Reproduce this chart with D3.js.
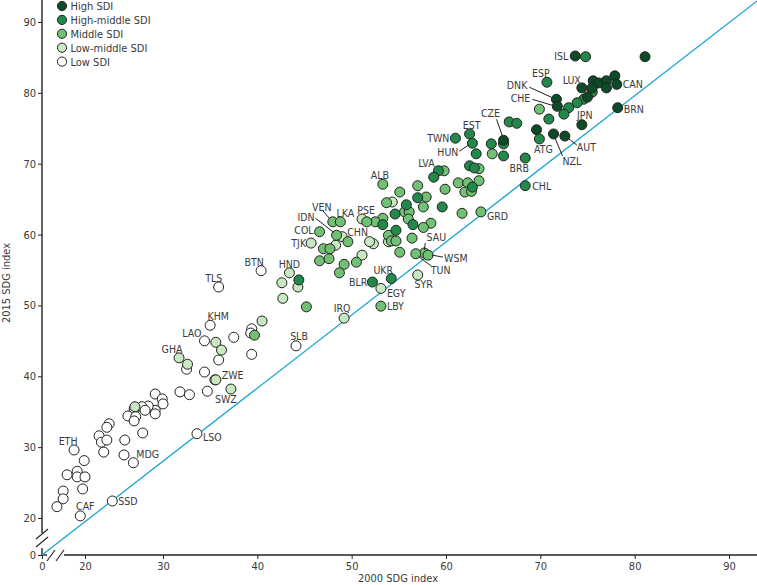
<!DOCTYPE html>
<html><head><meta charset="utf-8">
<script src="https://cdn.jsdelivr.net/npm/d3@7"></script>
<style>
html,body{margin:0;padding:0;background:#fff;}
svg{display:block;font-family:"DejaVu Sans Condensed","Liberation Sans",sans-serif;}
</style></head>
<body>
<svg id="chart" width="757" height="585"></svg>
<script>
// ---- data: [2000 SDG index, 2015 SDG index, label] ----
const sdiLevels = ["High SDI","High-middle SDI","Middle SDI","Low-middle SDI","Low SDI"];
const xTicks = [0,20,30,40,50,60,70,80,90];
const yTicks = [0,20,30,40,50,60,70,80,90];

const highSDI = [
[73.7,85.2,"ISL"],[81.1,85.1,""],[75.6,81.7,""],[76.2,81.4,""],[77.0,81.7,""],
[77.0,80.7,""],[77.9,82.4,""],[78.1,81.2,"CAN"],[74.4,80.7,"LUX"],[75.5,80.7,""],
[75.0,79.4,""],[71.7,79.1,"DNK"],[71.8,78.1,"CHE"],[74.4,75.5,"JPN"],[78.2,77.9,"BRN"],
[69.6,74.8,""],[71.4,74.2,"NZL"],[72.6,73.9,"AUT"],[66.1,73.3,"CZE"]
];
const highMiddleSDI = [
[74.8,85.1,""],[70.7,81.5,"ESP"],[75.5,80.1,""],[74.6,79.1,""],[73.9,78.6,""],
[73.0,77.9,""],[72.5,77.0,""],[70.9,76.3,""],[69.9,73.5,"ATG"],[68.4,70.8,"BRB"],
[68.4,66.9,"CHL"],[66.7,75.9,""],[67.5,75.7,""],[66.1,72.8,""],[62.5,74.2,"EST"],
[61.0,73.6,"TWN"],[62.8,72.9,"HUN"],[64.8,72.8,""],[66.1,71.1,""],[63.2,71.4,""],
[59.2,69.0,"LVA"],[58.7,68.1,""],[62.5,69.7,""],[63.0,69.4,""],[62.8,66.7,""],
[57.0,65.2,""],[55.8,64.2,""],[56.5,61.4,""],[59.6,63.9,""],[54.6,62.9,""],
[53.3,61.4,""],[54.7,60.6,""],[52.2,53.3,"BLR"],[54.2,53.8,"UKR"],[44.4,53.6,""]
];
const middleSDI = [
[69.9,77.7,""],[64.9,71.4,""],[59.8,69.0,""],[63.5,69.3,""],[61.3,67.3,""],
[62.3,67.3,""],[63.5,67.6,""],[62.0,66.0,""],[62.7,66.1,""],[59.9,66.4,""],
[57.0,66.9,""],[55.1,66.0,""],[57.9,65.3,""],[57.6,63.9,""],[55.6,63.2,""],
[56.1,63.2,""],[56.0,62.2,""],[58.4,61.6,""],[57.6,61.0,""],[56.4,59.5,""],
[55.1,57.5,""],[57.7,57.4,"SAU"],[56.8,57.3,"TUN"],[58.1,57.1,"WSM"],[61.7,63.0,""],
[63.7,63.2,"GRD"],[53.3,67.1,"ALB"],[53.7,64.5,""],[53.3,62.3,""],[52.5,61.8,""],
[51.6,61.8,""],[53.9,59.9,""],[54.2,59.1,""],[54.7,59.1,""],[50.5,56.1,""],
[46.6,56.3,""],[47.6,56.6,""],[49.2,55.8,""],[48.7,54.6,""],[47.0,58.0,""],
[47.7,58.0,""],[49.6,59.0,""],[48.4,59.9,"IDN"],[46.6,60.4,"COL"],[48.0,61.8,"VEN"],
[48.8,61.8,"LKA"],[45.2,49.8,""],[39.7,45.8,""],[53.1,49.9,"LBY"]
];
const lowMiddleSDI = [
[54.3,64.6,""],[51.1,62.2,"PSE"],[53.9,59.0,""],[52.3,58.7,""],[51.9,59.0,""],
[51.1,57.1,""],[49.0,59.7,"CHN"],[48.3,58.5,""],[45.7,58.8,"TJK"],[43.4,54.6,"HND"],
[44.3,52.6,""],[42.6,53.2,""],[42.7,51.0,""],[40.5,47.8,""],[49.2,48.2,"IRQ"],
[53.1,52.4,"EGY"],[57.0,54.3,"SYR"],[31.7,42.6,"GHA"],[32.6,41.7,""],[35.6,44.8,""],
[36.2,43.7,""],[35.6,39.5,"ZWE"],[37.2,38.2,"SWZ"],[26.4,35.7,""]
];
const lowSDI = [
[35.0,47.2,"KHM"],[34.4,45.0,"LAO"],[32.5,41.0,""],[37.5,45.5,""],[35.9,42.3,""],
[34.4,40.6,""],[35.5,39.5,""],[34.7,37.9,""],[31.8,37.8,""],[32.8,37.4,""],
[39.4,46.7,""],[39.3,46.1,""],[39.4,43.1,""],[33.6,31.9,"LSO"],[35.9,52.6,"TLS"],
[40.4,54.9,"BTN"],[44.1,44.3,"SLB"],[29.0,37.5,""],[29.9,36.8,""],[30.0,36.1,""],
[29.0,35.2,""],[29.0,34.7,""],[28.1,35.8,""],[27.3,35.7,""],[26.3,35.4,""],
[27.7,35.2,""],[25.5,34.4,""],[26.5,34.3,""],[26.3,33.7,""],[27.4,32.0,""],
[23.1,33.3,""],[22.8,32.8,""],[21.8,31.6,""],[22.1,30.7,""],[22.8,31.0,""],
[22.4,29.3,""],[25.1,31.0,""],[25.0,28.9,""],[26.2,27.8,"MDG"],[18.6,29.6,"ETH"],
[19.9,28.1,""],[17.7,26.1,""],[19.0,26.6,""],[19.0,25.8,""],[20.0,25.8,""],
[19.7,24.1,""],[17.2,23.8,""],[17.2,22.7,""],[16.4,21.6,""],[19.4,20.3,"CAF"],
[23.5,22.4,"SSD"]
];
const equalityLine = [[0,0],[93.1,93.1]];

// ---- presentation ----
const sdiColors = ["#0d4a27","#23894a","#70c174","#c7e8c0","#ffffff"];
const groups = [highSDI, highMiddleSDI, middleSDI, lowMiddleSDI, lowSDI];

// label placement (offsets from the point, px); line = leader [x1,y1,x2,y2]
const labelLayout = {
 ISL:["end",-7,0], ESP:["middle",-6,-9], LUX:["end",-1,-8], CAN:["start",6,0],
 DNK:["end",-29,-14,[-5,-2,-27,-12]], CHE:["end",-27,-8,[-5,-1,-25,-7]],
 JPN:["middle",3,-10], BRN:["start",6,1], ATG:["middle",4,10],
 NZL:["start",9,27,[1,3,9,22]], AUT:["start",12,11,[3,2,12,9]],
 BRB:["middle",-6,10], CHL:["start",7,0], CZE:["middle",-13,-27,[-1,-4,-7,-21]],
 EST:["middle",2,-9], TWN:["end",-6,0], HUN:["end",-14,9,[-4,2,-13,8]],
 LVA:["middle",-12,-8], GRD:["start",6,4], SAU:["middle",12,-16,[0,-3,1,-10]],
 WSM:["start",16,3,[4,0,15,2]], TUN:["start",15,16,[3,3,15,12]],
 SYR:["middle",6,9], UKR:["middle",-8,-9], BLR:["end",-5,0], EGY:["start",6,5],
 LBY:["start",6,0], IRQ:["middle",-2,-10], SLB:["middle",3,-10], HND:["middle",0,-9],
 BTN:["middle",-7,-9], TLS:["middle",-5,-9], KHM:["middle",8,-9], LAO:["end",-3,-8],
 GHA:["middle",-7,-9], ZWE:["start",6,-5], SWZ:["middle",-5,10], LSO:["start",6,3],
 MDG:["start",3,-9], ETH:["middle",-6,-9], CAF:["middle",5,-10], SSD:["start",6,0],
 ALB:["middle",-3,-9], VEN:["middle",-11,-15,[-3,-3,-10,-11]], LKA:["middle",5,-9],
 PSE:["middle",4,-9], IDN:["end",-22,-18,[-3,-3,-21,-17]], COL:["end",-6,-2],
 TJK:["end",-5,0], CHN:["start",5,-5]
};

const svg = d3.select("#chart");
const x = d3.scaleLinear().domain([0,15,30,90]).range([42,46,163,729]);
const y = d3.scaleLinear().domain([0,20,90]).range([555,518,22]);
const ink = "#222", txt = "#3a3a3a";
const fs = "10.5px";

// axes
const gx = svg.append("g").attr("transform",`translate(0,${y(0)})`)
  .call(d3.axisBottom(x).tickValues(xTicks).tickSize(4).tickPadding(3));
const gy = svg.append("g").attr("transform",`translate(${x(0)},0)`)
  .call(d3.axisLeft(y).tickValues(yTicks).tickSize(4).tickPadding(2));
[gx,gy].forEach(g=>{
  g.select(".domain").remove();
  g.selectAll(".tick line").attr("stroke",ink).attr("stroke-width",1);
  g.selectAll(".tick text").attr("fill",txt).style("font-size","11px")
    .style("font-family","'DejaVu Sans Condensed',sans-serif");
});
const x0 = x(0), y0 = y(0);
const axisG = svg.append("g").attr("stroke",ink).attr("stroke-width",1.4).attr("fill","none");
axisG.append("line").attr("x1",x0).attr("y1",0).attr("x2",x0).attr("y2",y0-22);
axisG.append("line").attr("x1",x0).attr("y1",y0-7).attr("x2",x0).attr("y2",y0);
axisG.append("line").attr("x1",x0).attr("y1",y0).attr("x2",x0+5).attr("y2",y0);
axisG.append("line").attr("x1",x0+22).attr("y1",y0).attr("x2",757).attr("y2",y0);
const sl = svg.append("g").attr("stroke",ink).attr("stroke-width",1.1);
[[x0-6,y0-16,x0+6,y0-26],[x0-6,y0-8,x0+6,y0-18],
 [x0+5,y0+6,x0+13,y0-5],[x0+14,y0+6,x0+22,y0-5]].forEach(s=>
  sl.append("line").attr("x1",s[0]).attr("y1",s[1]).attr("x2",s[2]).attr("y2",s[3]));

// axis titles
svg.append("text").attr("x",398).attr("y",582).attr("text-anchor","middle")
  .attr("fill",txt).style("font-size","11px").text("2000 SDG index");
svg.append("text").attr("transform","translate(10,283) rotate(-90)").attr("text-anchor","middle")
  .attr("fill",txt).style("font-size","11px").text("2015 SDG index");

// equality line
svg.append("path").datum(equalityLine)
  .attr("d", d3.line().x(d=>x(d[0])).y(d=>y(d[1])))
  .attr("stroke","#1ba4d2").attr("stroke-width",1.3).attr("fill","none");

// points (low first so higher SDI sit on top)
const pts = svg.append("g");
for (let i = groups.length-1; i>=0; i--) {
  pts.selectAll(null).data(groups[i]).enter().append("circle")
    .attr("cx",d=>x(d[0])).attr("cy",d=>y(d[1])).attr("r",5)
    .attr("fill",sdiColors[i]).attr("stroke",ink).attr("stroke-width",1);
}

// labels
const labG = svg.append("g").attr("fill",txt).style("font-size",fs);
groups.forEach(g=>g.filter(d=>d[2]).forEach(d=>{
  const L = labelLayout[d[2]]; if(!L) return;
  const px = x(d[0]), py = y(d[1]);
  if (L[3]) labG.append("line").attr("x1",px+L[3][0]).attr("y1",py+L[3][1])
      .attr("x2",px+L[3][2]).attr("y2",py+L[3][3]).attr("stroke",ink).attr("stroke-width",1);
  labG.append("text").attr("x",px+L[1]).attr("y",py+L[2]+4)
    .attr("text-anchor",L[0]).text(d[2]);
}));

// legend
const leg = svg.append("g").attr("transform","translate(62,6)");
sdiLevels.forEach((s,i)=>{
  leg.append("circle").attr("cx",0).attr("cy",i*13.9).attr("r",4.6)
    .attr("fill",sdiColors[i]).attr("stroke",ink).attr("stroke-width",1);
  leg.append("text").attr("x",8.5).attr("y",i*13.9+4).attr("fill",txt)
    .style("font-size","11px").text(s);
});
</script>
</body></html>
